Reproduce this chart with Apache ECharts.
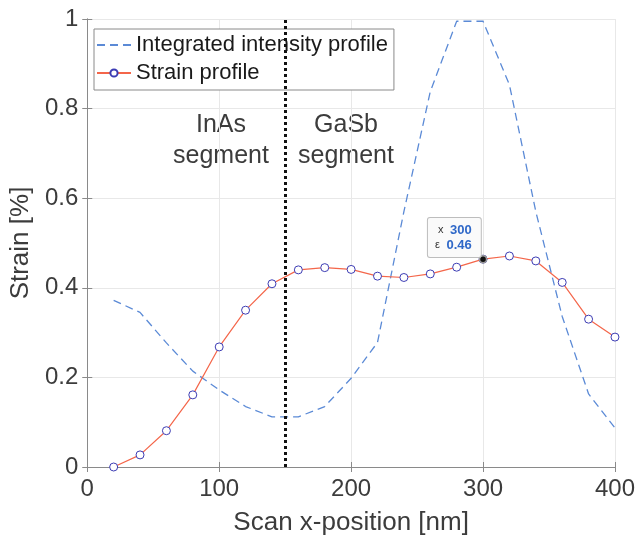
<!DOCTYPE html>
<html>
<head>
<meta charset="utf-8">
<script src="https://cdn.jsdelivr.net/npm/echarts@6/dist/echarts.min.js"></script>
<style>
  html, body { margin: 0; padding: 0; background: #fff; }
  #graph { width: 638px; height: 542px; }
</style>
</head>
<body>
<div id="graph"></div>
<script>
// scan positions [nm]
const xPos = [20, 40, 60, 80, 100, 120, 140, 160, 180, 200, 220, 240, 260, 280, 300, 320, 340, 360, 380, 400];
// normalised integrated intensity
const intensity = [0.372, 0.345, 0.277, 0.214, 0.172, 0.135, 0.112, 0.112, 0.135, 0.198, 0.278, 0.57, 0.838, 0.995, 0.995, 0.853, 0.57, 0.336, 0.163, 0.087];
// strain [%]
const strain = [0, 0.027, 0.081, 0.161, 0.268, 0.350, 0.409, 0.440, 0.445, 0.441, 0.426, 0.423, 0.431, 0.446, 0.464, 0.471, 0.460, 0.412, 0.330, 0.290];
const xTicks = [0, 100, 200, 300, 400];
const yTicks = [0, 0.2, 0.4, 0.6, 0.8, 1];
const interfaceX = 150;
const tipX = 300;

const font = "'Liberation Sans', Arial, sans-serif";
const textColor = '#3c3c3c';
const axisColor = '#8a8a8a';

const chart = echarts.init(document.getElementById('graph'));
const tipY = strain[xPos.indexOf(tipX)];

function boxAxis(pos, isX) {
  return {
    type: 'value',
    position: pos,
    min: isX ? xTicks[0] : yTicks[0],
    max: isX ? xTicks[xTicks.length - 1] : yTicks[yTicks.length - 1],
    interval: isX ? 100 : 0.2,
    axisLine: {show: true, lineStyle: {color: axisColor, width: 1}},
    axisTick: {show: true, inside: true, length: 5, lineStyle: {color: axisColor}},
    axisLabel: {show: false},
    splitLine: {show: false}
  };
}

chart.setOption({
  backgroundColor: '#fff',
  animation: false,
  grid: {left: 85, right: 21, top: 19, bottom: 75, containLabel: false},
  legend: {
    orient: 'vertical',
    left: 94,
    top: 29,
    data: ['Integrated intensity profile', 'Strain profile'],
    itemWidth: 34,
    itemHeight: 9,
    itemGap: 4,
    padding: [4, 6, 5, 2],
    borderColor: '#8a8a8a',
    borderWidth: 1,
    backgroundColor: '#fff',
    textStyle: {fontFamily: font, fontSize: 22, lineHeight: 24, color: '#1a1a1a'}
  },
  xAxis: [
    {
      type: 'value',
      min: 0, max: 400, interval: 100,
      name: 'Scan x-position [nm]',
      nameLocation: 'middle',
      nameGap: 43,
      nameTextStyle: {fontFamily: font, fontSize: 26, color: textColor},
      axisLine: {show: true, lineStyle: {color: axisColor, width: 1}},
      axisTick: {show: true, inside: true, length: 5, lineStyle: {color: axisColor}},
      axisLabel: {fontFamily: font, fontSize: 24, color: textColor, margin: 10},
      splitLine: {show: true, lineStyle: {color: '#e8e8e8', width: 1}}
    },
    boxAxis('top', true)
  ],
  yAxis: [
    {
      type: 'value',
      min: 0, max: 1, interval: 0.2,
      name: 'Strain [%]',
      nameLocation: 'middle',
      nameGap: 46,
      nameTextStyle: {fontFamily: font, fontSize: 26, color: textColor},
      axisLine: {show: true, lineStyle: {color: axisColor, width: 1}},
      axisTick: {show: true, inside: true, length: 5, lineStyle: {color: axisColor}},
      axisLabel: {fontFamily: font, fontSize: 24, color: textColor, margin: 9},
      splitLine: {show: true, lineStyle: {color: '#e8e8e8', width: 1}}
    },
    boxAxis('right', false)
  ],
  series: [
    {
      name: 'Integrated intensity profile',
      type: 'line',
      data: xPos.map((x, i) => [x, intensity[i]]),
      symbol: 'none',
      itemStyle: {color: 'transparent', borderColor: 'transparent', borderWidth: 0},
      lineStyle: {color: '#5b8ad6', width: 1.3, type: [8, 5]},
      z: 2,
      markLine: {
        silent: true,
        symbol: 'none',
        label: {show: false},
        lineStyle: {color: '#111', width: 3, type: [3, 3]},
        data: [{xAxis: interfaceX}]
      }
    },
    {
      name: 'Strain profile',
      type: 'line',
      data: xPos.map((x, i) => [x, strain[i]]),
      symbol: 'circle',
      symbolSize: 8,
      itemStyle: {color: '#fff', borderColor: '#3c3cb4', borderWidth: 1},
      lineStyle: {color: '#f4664a', width: 1.2},
      z: 3,
      markPoint: {
        silent: true,
        symbol: 'circle',
        symbolSize: 7,
        itemStyle: {color: '#111', borderColor: '#999', borderWidth: 1.5},
        label: {
          show: true,
          position: [2, 2],
          align: 'right',
          verticalAlign: 'bottom',
          backgroundColor: '#fafafa',
          borderColor: '#bdbdbd',
          borderWidth: 1,
          borderRadius: 2,
          padding: [5, 9, 4, 7],
          formatter: () => '{k|x}  {v|' + tipX + '}\n{k|ε}  {v|' + tipY.toFixed(2) + '}',
          rich: {
            k: {fontFamily: font, fontSize: 11, color: '#333', lineHeight: 15},
            v: {fontFamily: font, fontSize: 13, fontWeight: 'bold', color: '#2f68c8', lineHeight: 15}
          }
        },
        data: [{coord: [tipX, tipY]}]
      }
    }
  ],
  graphic: [
    {
      type: 'text',
      style: {text: 'InAs\nsegment', x: 221, y: 110, textAlign: 'center', font: '25px ' + font, fill: textColor, lineHeight: 31}
    },
    {
      type: 'text',
      style: {text: 'GaSb\nsegment', x: 346, y: 110, textAlign: 'center', font: '25px ' + font, fill: textColor, lineHeight: 31}
    }
  ]
});
</script>
</body>
</html>
